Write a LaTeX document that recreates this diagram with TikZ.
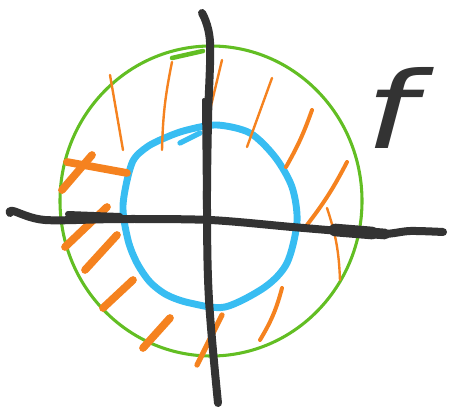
\documentclass[tikz,border=0pt]{standalone}
\usepackage{fontspec}
\newfontfamily\fsans{DejaVu Sans}
\definecolor{gr}{HTML}{62BE23}
\definecolor{bl}{HTML}{38BDF2}
\definecolor{orr}{HTML}{F5821F}
\definecolor{ink}{HTML}{333333}
\begin{document}
\begin{tikzpicture}[x=0.75pt,y=-0.75pt,line cap=round,line join=round,
  greenline/.style={draw=gr,line width=2.3pt},
  blueline/.style={draw=bl,line width=5.2pt},
  hthin/.style={draw=orr,line width=1.8pt},
  hmid/.style={draw=orr,line width=3pt},
  hthick/.style={draw=orr,line width=5.8pt},
  axisline/.style={draw=ink,line width=6pt}]
\useasboundingbox (0,0) rectangle (449,410);
% green outer circle
\draw[greenline] (211,201) ellipse [x radius=151, y radius=155];
\draw[draw=gr,line width=3.4pt] (172,58) -- (203,51);
% blue inner circle
\draw[blueline] plot[smooth cycle,tension=0.5] coordinates {(123,205) (132,163) (147,147) (167,137) (187,130) (217,125) (250,133) (275,157) (292,187) (297,222) (287,263) (265,287) (225,307) (190,303) (167,295) (150,282) (137,263) (128,240)};
\draw[draw=bl,line width=4pt] (180,143) -- (200,133);
% orange hatching
\draw[hthin] (110,75) -- (123,150);
\draw[hthin] (172,62) to[bend right=5] (162,150);
\draw[hthin] (222,60) -- (210,110);
\draw[hthin] (272,78) -- (247,147);
\draw[hmid] (312,110) to[bend left=5] (286,167);
\draw[hmid] (347,162) to[bend left=5] (307,225);
\draw[hthin] (327,208) to[bend left=8] (340,280);
\draw[hmid] (282,288) to[bend left=8] (260,340);
\draw[hthick] (67,162) -- (127,173);
\draw[hthick] (92,155) -- (62,190);
\draw[hthick] (107,207) -- (65,247);
\draw[hthick] (117,235) -- (85,270);
\draw[hthick] (133,280) -- (103,308);
\draw[hthick] (170,318) -- (143,348);
\draw[draw=orr,line width=4pt] (222,315) -- (197,365);
% axes
\draw[axisline] plot[smooth,tension=0.5] coordinates {(10,213) (13,211) (45,220) (120,219) (210,220) (292,227) (340,231) (383,234) (410,231) (443,232)};
\draw[draw=ink,line width=9.5pt] (335,230) -- (372,233);
\draw[draw=ink,line width=8pt] (365,232.5) -- (385,234);
\draw[draw=ink,line width=4.5pt] (68,214) -- (120,216);
\draw[axisline] plot[smooth,tension=0.6] coordinates {(202,13) (210,42) (208,120) (207,210) (209,300) (218,403)};
\draw[draw=ink,line width=3pt] (204,100) -- (205,200);
% label f
\node[text=ink,inner sep=0pt,font=\fsans\itshape\fontsize{80}{80}\selectfont] (f) at (391,108) {\scalebox{1.35}[1]{f}};
\end{tikzpicture}
\end{document}
